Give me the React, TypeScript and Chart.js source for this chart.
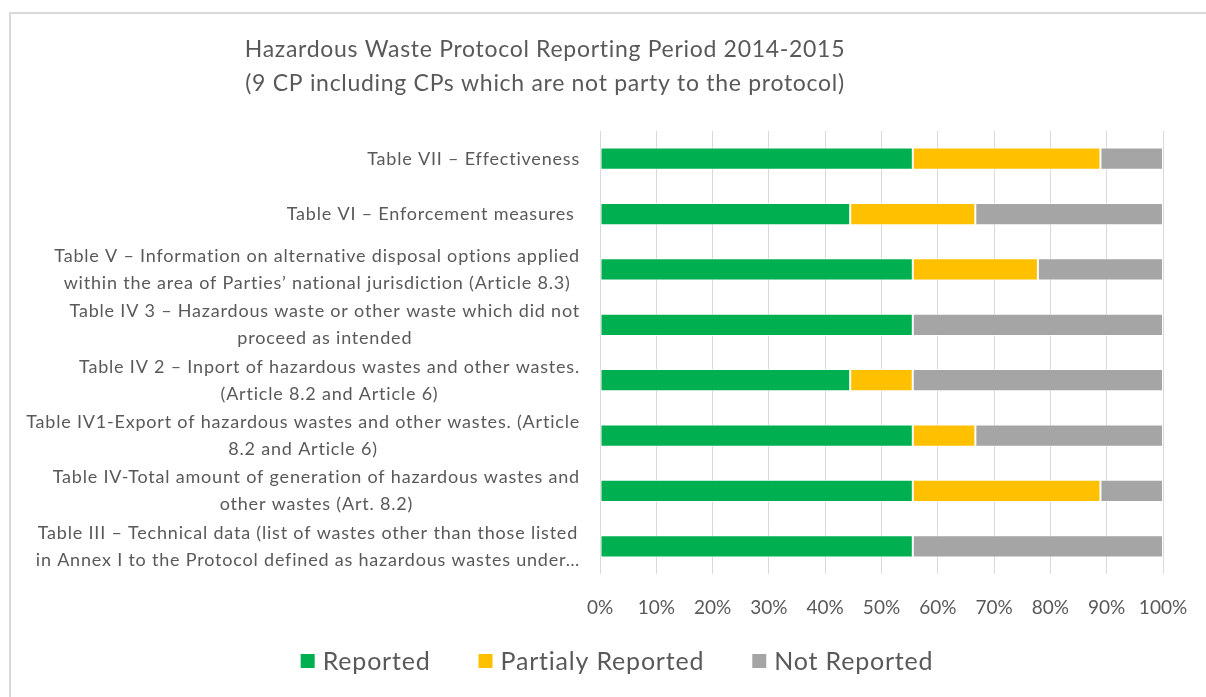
import React, { useEffect, useRef } from "react";
import { Chart, registerables } from "chart.js";

Chart.register(...registerables);

const categories: string[][] = [
  ["Table VII – Effectiveness"],
  ["Table VI – Enforcement measures "],
  [
    "Table V – Information on alternative disposal options applied",
    "within the area of Parties’ national jurisdiction (Article 8.3)",
  ],
  ["Table IV 3 – Hazardous waste or other waste which did not", "proceed as intended"],
  ["Table IV 2 – Inport of hazardous wastes and other wastes.", "(Article 8.2 and Article 6)"],
  ["Table IV1-Export of hazardous wastes and other wastes. (Article", "8.2 and Article 6)"],
  ["Table IV-Total amount of generation of hazardous wastes and", "other wastes (Art. 8.2)"],
  [
    "Table III – Technical data (list of wastes other than those listed",
    "in Annex I to the Protocol defined as hazardous wastes under…",
  ],
];

const reported = [55.56, 44.44, 55.56, 55.56, 44.44, 55.56, 55.56, 55.56];
const partialyReported = [33.33, 22.22, 22.22, 0, 11.11, 11.11, 33.33, 0];
const notReported = [11.11, 33.34, 22.22, 44.44, 44.45, 33.33, 11.11, 44.44];

const seriesNames = ["Reported", "Partialy Reported", "Not Reported"];
const seriesColors = ["#00B050", "#FFC000", "#A5A5A5"];

const titleLines = [
  "Hazardous Waste Protocol Reporting Period 2014-2015",
  "(9 CP including CPs which are not party to the protocol)",
];

const FONT = "Lato, 'Open Sans', sans-serif";
const TEXT = "#595959";

const overlayPlugin = {
  id: "overlay",
  afterDraw(chart: any) {
    const ctx = chart.ctx as any;
    const yScale = chart.scales.y;
    const area = chart.chartArea;
    ctx.save();
    ctx.fillStyle = TEXT;

    // Category labels: block right-aligned, lines centred within block
    ctx.font = `18px ${FONT}`;
    ctx.letterSpacing = "0.8px";
    ctx.textAlign = "center";
    ctx.textBaseline = "middle";
    const lh = 27;
    categories.forEach((lines, i) => {
      const cy = yScale.getPixelForValue(i);
      const bw = Math.max(...lines.map((l) => ctx.measureText(l).width));
      const cx = area.left - 20 - bw / 2;
      const start = cy - ((lines.length - 1) * lh) / 2;
      lines.forEach((l, j) => ctx.fillText(l, cx, start + j * lh));
    });

    // Title
    ctx.font = `23px ${FONT}`;
    ctx.letterSpacing = "0.7px";
    ctx.textAlign = "center";
    titleLines.forEach((t, i) => ctx.fillText(t, 545, 50 + i * 34));

    // Legend
    ctx.font = `25px ${FONT}`;
    ctx.letterSpacing = "0.8px";
    const box = 14;
    const gapBox = 8;
    const gapItem = 48;
    const widths = seriesNames.map((n) => box + gapBox + ctx.measureText(n).width);
    const total = widths.reduce((a, b) => a + b, 0) + gapItem * (seriesNames.length - 1);
    let x = 617 - total / 2;
    const ly = 661;
    ctx.textAlign = "left";
    seriesNames.forEach((n, i) => {
      ctx.fillStyle = seriesColors[i];
      ctx.fillRect(x, ly - box / 2, box, box);
      ctx.fillStyle = TEXT;
      ctx.fillText(n, x + box + gapBox, ly + 1);
      x += widths[i] + gapItem;
    });
    ctx.restore();
  },
};

export default function App() {
  const ref = useRef<HTMLCanvasElement | null>(null);

  useEffect(() => {
    if (!ref.current) return;
    const chart = new Chart(ref.current, {
      type: "bar",
      data: {
        labels: categories.map((c) => c.join(" ")),
        datasets: [reported, partialyReported, notReported].map((d, i) => ({
          label: seriesNames[i],
          data: d,
          backgroundColor: seriesColors[i],
          borderColor: "rgba(255,255,255,0.7)",
          borderWidth: 1,
          borderSkipped: false,
          categoryPercentage: 1,
          barPercentage: 0.4,
        })),
      },
      options: {
        indexAxis: "y",
        responsive: false,
        animation: false,
        layout: { padding: { left: 600, right: 43, top: 131, bottom: 73 } },
        plugins: {
          legend: { display: false },
          title: { display: false },
          tooltip: { enabled: false },
        },
        scales: {
          x: {
            stacked: true,
            min: 0,
            max: 100,
            afterFit: (s: any) => {
              s.height = 50;
              s.paddingLeft = 0;
              s.paddingRight = 0;
            },
            grid: { color: "#D9D9D9", lineWidth: 1, drawTicks: false },
            border: { display: false },
            ticks: {
              stepSize: 10,
              padding: 22,
              color: TEXT,
              font: { family: FONT, size: 19 },
              callback: (v: any) => `${v}%`,
            },
          },
          y: {
            stacked: true,
            display: false,
          },
        },
      },
      plugins: [overlayPlugin],
    });
    return () => chart.destroy();
  }, []);

  return (
    <div
      style={{
        position: "absolute",
        left: 0,
        top: 0,
        width: 1206,
        height: 697,
        overflow: "hidden",
        background: "#fff",
      }}
    >
      <div
        style={{
          position: "absolute",
          left: 9,
          top: 12,
          width: 1210,
          height: 700,
          border: "2px solid #D9D9D9",
        }}
      />
      <canvas
        ref={ref}
        width={1206}
        height={697}
        style={{ position: "absolute", left: 0, top: 0, width: 1206, height: 697 }}
      />
    </div>
  );
}
